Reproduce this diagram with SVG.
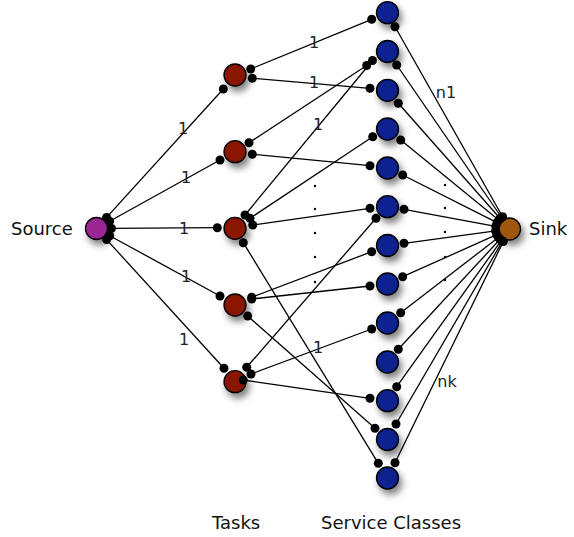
<svg xmlns="http://www.w3.org/2000/svg" width="574" height="537" viewBox="0 0 574 537">
<style>
  .node { stroke: #000; stroke-width: 1.3; filter: url(#shadow); }
  .src { fill: #9a2896; }
  .task { fill: #8b1600; }
  .svc { fill: #07208e; }
  .sink { fill: #a0560c; }
  .edge line { stroke: #000; stroke-width: 1.3; }
  .port { fill: #000; }
  .lbl { font-family: "DejaVu Sans", "Liberation Sans", sans-serif; font-size: 16px; fill: #222; text-anchor: middle; }
  .title { font-family: "DejaVu Sans", "Liberation Sans", sans-serif; font-size: 18px; fill: #111; }
  .ell { fill: #000; }
</style>
<defs>
  <filter id="shadow" x="-80%" y="-80%" width="260%" height="260%">
    <feDropShadow dx="3" dy="5" stdDeviation="3.5" flood-color="#000" flood-opacity="0.5"/>
  </filter>
</defs>
<rect width="574" height="537" fill="#fff"/>

<g id="nodes">
  <g id="source"><circle class="node src" cx="96.5" cy="228.5" r="11"/></g>
  <g id="task1"><circle class="node task" cx="235" cy="75" r="11"/></g>
  <g id="task2"><circle class="node task" cx="235" cy="151.7" r="11"/></g>
  <g id="task3"><circle class="node task" cx="235" cy="228.3" r="11"/></g>
  <g id="task4"><circle class="node task" cx="235" cy="305" r="11"/></g>
  <g id="task5"><circle class="node task" cx="235" cy="381.7" r="11"/></g>
  <g id="svc1"><circle class="node svc" cx="387.5" cy="12.7" r="11"/></g>
  <g id="svc2"><circle class="node svc" cx="387.5" cy="51.5" r="11"/></g>
  <g id="svc3"><circle class="node svc" cx="387.5" cy="90.3" r="11"/></g>
  <g id="svc4"><circle class="node svc" cx="387.5" cy="129" r="11"/></g>
  <g id="svc5"><circle class="node svc" cx="387.5" cy="168" r="11"/></g>
  <g id="svc6"><circle class="node svc" cx="387.5" cy="206.7" r="11"/></g>
  <g id="svc7"><circle class="node svc" cx="387.5" cy="245.5" r="11"/></g>
  <g id="svc8"><circle class="node svc" cx="387.5" cy="284" r="11"/></g>
  <g id="svc9"><circle class="node svc" cx="387.5" cy="323" r="11"/></g>
  <g id="svc10"><circle class="node svc" cx="387.5" cy="362" r="11"/></g>
  <g id="svc11"><circle class="node svc" cx="387.5" cy="400.7" r="11"/></g>
  <g id="svc12"><circle class="node svc" cx="387.5" cy="439.5" r="11"/></g>
  <g id="svc13"><circle class="node svc" cx="387.5" cy="478" r="11"/></g>
  <g id="sink"><circle class="node sink" cx="509.5" cy="229" r="11"/></g>
</g>

<g id="connectors">
  <!-- source to tasks -->
  <g class="edge"><line x1="106.6" y1="217.4" x2="223.3" y2="89"/><circle class="port" cx="106.6" cy="217.4" r="4.5"/><circle class="port" cx="223.3" cy="89" r="4.5"/></g>
  <g class="edge"><line x1="109.6" y1="221.2" x2="220" y2="160"/><circle class="port" cx="109.6" cy="221.2" r="4.5"/><circle class="port" cx="220" cy="160" r="4.5"/></g>
  <g class="edge"><line x1="111.5" y1="228.4" x2="217.3" y2="227.7"/><circle class="port" cx="111.5" cy="228.4" r="4.5"/><circle class="port" cx="217.3" cy="227.7" r="4.5"/></g>
  <g class="edge"><line x1="109.7" y1="235.7" x2="220" y2="296"/><circle class="port" cx="109.7" cy="235.7" r="4.5"/><circle class="port" cx="220" cy="296" r="4.5"/></g>
  <g class="edge"><line x1="106.6" y1="239.6" x2="224" y2="368.3"/><circle class="port" cx="106.6" cy="239.6" r="4.5"/><circle class="port" cx="224" cy="368.3" r="4.5"/></g>

  <!-- tasks to service classes -->
  <g class="edge"><line x1="250.7" y1="69" x2="371.7" y2="19.3"/><circle class="port" cx="250.7" cy="69" r="4.5"/><circle class="port" cx="371.7" cy="19.3" r="4.5"/></g>
  <g class="edge"><line x1="252.3" y1="78.3" x2="370" y2="88.3"/><circle class="port" cx="252.3" cy="78.3" r="4.5"/><circle class="port" cx="370" cy="88.3" r="4.5"/></g>
  <g class="edge"><line x1="249" y1="142.7" x2="366.7" y2="65.5"/><circle class="port" cx="249" cy="142.7" r="4.5"/><circle class="port" cx="366.7" cy="65.5" r="4.5"/></g>
  <g class="edge"><line x1="252.3" y1="154.3" x2="370" y2="165.7"/><circle class="port" cx="252.3" cy="154.3" r="4.5"/><circle class="port" cx="370" cy="165.7" r="4.5"/></g>
  <g class="edge"><line x1="245" y1="215" x2="372.5" y2="60.5"/><circle class="port" cx="245" cy="215" r="4.5"/><circle class="port" cx="372.5" cy="60.5" r="4.5"/></g>
  <g class="edge"><line x1="250" y1="218.3" x2="372.7" y2="136.7"/><circle class="port" cx="250" cy="218.3" r="4.5"/><circle class="port" cx="372.7" cy="136.7" r="4.5"/></g>
  <g class="edge"><line x1="252.7" y1="225" x2="370" y2="208.3"/><circle class="port" cx="252.7" cy="225" r="4.5"/><circle class="port" cx="370" cy="208.3" r="4.5"/></g>
  <g class="edge"><line x1="243.3" y1="242.7" x2="378.3" y2="463.3"/><circle class="port" cx="243.3" cy="242.7" r="4.5"/><circle class="port" cx="378.3" cy="463.3" r="4.5"/></g>
  <g class="edge"><line x1="251.7" y1="297.3" x2="371.7" y2="251.7"/><circle class="port" cx="251.7" cy="297.3" r="4.5"/><circle class="port" cx="371.7" cy="251.7" r="4.5"/></g>
  <g class="edge"><line x1="251.7" y1="299" x2="370" y2="286"/><circle class="port" cx="251.7" cy="299" r="4.5"/><circle class="port" cx="370" cy="286" r="4.5"/></g>
  <g class="edge"><line x1="247.7" y1="316" x2="375" y2="428.3"/><circle class="port" cx="247.7" cy="316" r="4.5"/><circle class="port" cx="375" cy="428.3" r="4.5"/></g>
  <g class="edge"><line x1="246.7" y1="367.3" x2="376" y2="218.3"/><circle class="port" cx="246.7" cy="367.3" r="4.5"/><circle class="port" cx="376" cy="218.3" r="4.5"/></g>
  <g class="edge"><line x1="251" y1="374" x2="371.7" y2="329"/><circle class="port" cx="251" cy="374" r="4.5"/><circle class="port" cx="371.7" cy="329" r="4.5"/></g>
  <g class="edge"><line x1="243.3" y1="380" x2="370" y2="398.3"/><circle class="port" cx="243.3" cy="380" r="4.5"/><circle class="port" cx="370" cy="398.3" r="4.5"/></g>

  <!-- service classes to sink -->
  <g class="edge"><line x1="395" y1="26.7" x2="502.6" y2="216.8"/><circle class="port" cx="395" cy="26.7" r="4.5"/><circle class="port" cx="502.6" cy="216.8" r="4.5"/></g>
  <g class="edge"><line x1="396.7" y1="65" x2="501.6" y2="217.5"/><circle class="port" cx="396.7" cy="65" r="4.5"/><circle class="port" cx="501.6" cy="217.5" r="4.5"/></g>
  <g class="edge"><line x1="398.3" y1="103.3" x2="500.2" y2="218.5"/><circle class="port" cx="398.3" cy="103.3" r="4.5"/><circle class="port" cx="500.2" cy="218.5" r="4.5"/></g>
  <g class="edge"><line x1="400.7" y1="140" x2="498.7" y2="220.1"/><circle class="port" cx="400.7" cy="140" r="4.5"/><circle class="port" cx="498.7" cy="220.1" r="4.5"/></g>
  <g class="edge"><line x1="402.7" y1="175" x2="497" y2="222.7"/><circle class="port" cx="402.7" cy="175" r="4.5"/><circle class="port" cx="497" cy="222.7" r="4.5"/></g>
  <g class="edge"><line x1="404" y1="209.3" x2="495.7" y2="226.4"/><circle class="port" cx="404" cy="209.3" r="4.5"/><circle class="port" cx="495.7" cy="226.4" r="4.5"/></g>
  <g class="edge"><line x1="404" y1="243.3" x2="495.6" y2="230.9"/><circle class="port" cx="404" cy="243.3" r="4.5"/><circle class="port" cx="495.6" cy="230.9" r="4.5"/></g>
  <g class="edge"><line x1="402.7" y1="276.7" x2="496.7" y2="234.7"/><circle class="port" cx="402.7" cy="276.7" r="4.5"/><circle class="port" cx="496.7" cy="234.7" r="4.5"/></g>
  <g class="edge"><line x1="400.7" y1="312.7" x2="498.4" y2="237.5"/><circle class="port" cx="400.7" cy="312.7" r="4.5"/><circle class="port" cx="498.4" cy="237.5" r="4.5"/></g>
  <g class="edge"><line x1="398.3" y1="349.3" x2="500" y2="239.3"/><circle class="port" cx="398.3" cy="349.3" r="4.5"/><circle class="port" cx="500" cy="239.3" r="4.5"/></g>
  <g class="edge"><line x1="396.7" y1="386.7" x2="501.4" y2="240.4"/><circle class="port" cx="396.7" cy="386.7" r="4.5"/><circle class="port" cx="501.4" cy="240.4" r="4.5"/></g>
  <g class="edge"><line x1="396" y1="424" x2="502.5" y2="241.1"/><circle class="port" cx="396" cy="424" r="4.5"/><circle class="port" cx="502.5" cy="241.1" r="4.5"/></g>
  <g class="edge"><line x1="395" y1="462.7" x2="503.3" y2="241.6"/><circle class="port" cx="395" cy="462.7" r="4.5"/><circle class="port" cx="503.3" cy="241.6" r="4.5"/></g>
</g>

<g id="labels">
  <text class="lbl" x="183" y="134">1</text>
  <text class="lbl" x="186" y="183">1</text>
  <text class="lbl" x="184" y="234">1</text>
  <text class="lbl" x="186" y="282">1</text>
  <text class="lbl" x="184" y="345">1</text>
  <text class="lbl" x="314" y="48">1</text>
  <text class="lbl" x="314" y="88">1</text>
  <text class="lbl" x="318" y="130">1</text>
  <text class="lbl" x="318" y="353">1</text>
  <text class="lbl" x="446" y="98">n1</text>
  <text class="lbl" x="447" y="387">nk</text>
</g>

<g id="ellipsis">
  <circle class="ell" cx="315" cy="186" r="1.2"/>
  <circle class="ell" cx="315" cy="209" r="1.2"/>
  <circle class="ell" cx="315" cy="233" r="1.2"/>
  <circle class="ell" cx="315" cy="257" r="1.2"/>
  <circle class="ell" cx="315" cy="282" r="1.2"/>
  <circle class="ell" cx="445" cy="185" r="1.2"/>
  <circle class="ell" cx="445" cy="208" r="1.2"/>
  <circle class="ell" cx="445" cy="232" r="1.2"/>
  <circle class="ell" cx="445" cy="257" r="1.2"/>
  <circle class="ell" cx="445" cy="280" r="1.2"/>
</g>

<g id="titles">
  <text class="title" x="11" y="235">Source</text>
  <text class="title" x="529" y="235">Sink</text>
  <text class="title" x="212" y="529">Tasks</text>
  <text class="title" x="321" y="529">Service Classes</text>
</g>
</svg>
